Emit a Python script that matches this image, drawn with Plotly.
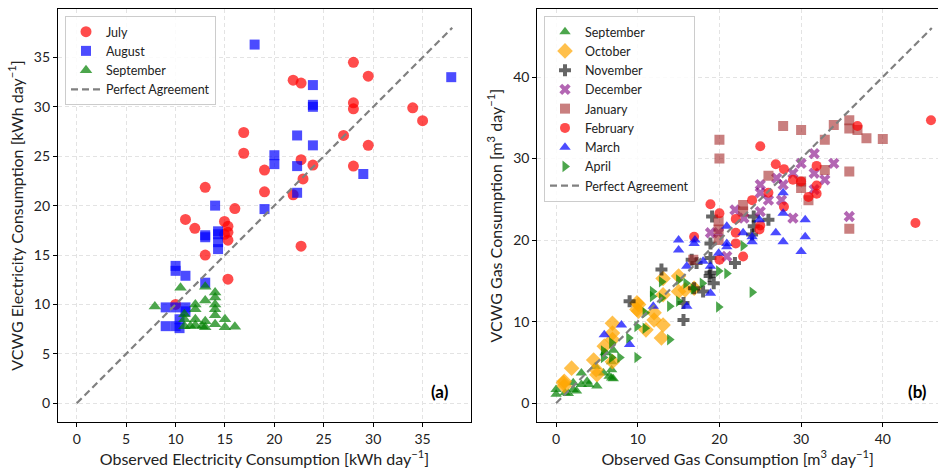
import plotly.graph_objects as go

# ---------------- Panel (a): electricity ----------------
july_obs = [28, 21.9, 22.7, 29.5, 28, 28, 34, 35, 27, 29.5, 28, 16.9, 16.9, 19, 19, 22.7,
            22.9, 23.9, 21.9, 13, 11, 11.95, 14.95, 15.3, 16, 14.95, 15.3, 15.3, 22.7, 13, 15.3, 10]
july_sim = [34.5, 32.7, 32.4, 33.1, 30.4, 29.8, 29.9, 28.6, 27.1, 26.1, 24.0, 27.4, 25.3, 23.6, 21.4, 24.65,
            22.7, 24.1, 21.1, 21.85, 18.6, 17.7, 18.4, 17.9, 19.7, 17.1, 17.3, 16.5, 15.9, 15.0, 12.55, 10.0]

aug_obs = [18, 37.9, 23.9, 23.9, 23.9, 22.3, 23.9, 20, 20, 22.3, 29, 22.3, 19, 14, 13, 13,
           14.3, 14.3, 14.3, 14.3, 10, 10, 11, 13, 9, 10, 11, 11, 9, 10, 10.4, 10.4]
aug_sim = [36.3, 33.0, 32.2, 30.0, 30.2, 27.1, 26.1, 25.1, 24.2, 24.0, 23.2, 21.3, 19.65, 20.0, 17.0, 16.8,
           17.4, 17.1, 16.3, 15.6, 13.9, 13.4, 12.9, 12.2, 9.7, 9.7, 9.7, 9.3, 7.8, 7.8, 8.5, 7.6]

sepe_obs = [7.9, 10.5, 13, 13, 12, 12, 14, 14, 14, 14, 14, 10.9, 10.9, 10.9, 12, 12,
            12.7, 13, 14, 15, 15, 16, 11.5, 13]
sepe_sim = [9.8, 11.7, 11.8, 10.4, 10.0, 9.5, 11.2, 10.7, 10.0, 9.5, 8.9, 9.0, 8.5, 7.8, 8.5, 7.9,
            7.8, 8.3, 8.0, 8.5, 7.7, 7.75, 7.8, 7.7]

elec_line = [0, 38]

# ---------------- Panel (b): gas ----------------
sep_obs = [0, 0, 1.1, 2.1, 2.1, 3.1, 3.1, 3.8, 4.8, 5, 6.8, 6.8, 6.8, 5.8, 1.5, 2.5, 4, 6.5, 7, 7, 6]
sep_sim = [1.7, 1.1, 1.3, 1.7, 2.5, 2.3, 3.7, 2.7, 4.5, 2.1, 4.1, 3.1, 5.1, 3.7, 1.2, 1.5, 2.3, 3.3, 3.0, 6.5, 6.2]

oct_obs = [1, 1, 1.9, 4.6, 5, 4.9, 5.9, 6.9, 6.9, 6.9, 6.9, 10.1, 10.1, 11, 12, 12, 13.1, 12.9,
           13.1, 13.1, 15, 15, 15.8, 16.9, 0.9, 9.9, 9.9]
oct_sim = [2.7, 2.1, 4.3, 5.3, 3.5, 4.1, 7.0, 9.8, 8.6, 7.8, 5.1, 12.1, 11.3, 9.0, 11.1, 10.2, 9.6, 8.0,
           13.3, 15.3, 15.6, 13.7, 13.9, 14.1, 2.5, 12.3, 11.5]

nov_obs = [19.1, 24.2, 26, 24.2, 24, 21.9, 18.9, 18.9, 18.9, 19.3, 16.9, 18, 15.6, 15.6, 12.9, 9, 17.2, 16.6, 18.8]
nov_sim = [22.9, 22.9, 22.5, 21.7, 20.7, 17.2, 19.6, 17.8, 16.0, 14.7, 14.1, 13.7, 12.3, 10.2, 16.4, 12.5, 17.2, 17.6, 15.6]

dec_obs = [31.6, 34, 32.9, 31.6, 30, 29, 27, 25, 25, 26, 27.8, 27.6, 25, 29, 21.9, 23, 18.9, 35.9, 31.6, 20.9, 19.9]
dec_sim = [30.6, 29.4, 27.4, 28.2, 29.4, 28.2, 27.6, 26.8, 25.8, 24.9, 26.8, 24.9, 23.5, 22.7, 23.7, 22.7, 20.9, 22.9, 26.2, 18.0, 20.9]

jan_obs = [20, 20, 27.8, 30, 34, 35.9, 35.9, 36.9, 38, 40, 32.9, 32.9, 35.9, 35.9, 26, 30, 30, 30.9,
           22.9, 22.9, 19.9, 19.9, 16.8, 19.9]
jan_sim = [32.3, 30.0, 34.0, 33.5, 34.1, 34.7, 33.7, 33.5, 32.5, 32.4, 32.3, 28.6, 28.4, 21.4, 27.9, 26.4, 27.2, 24.9,
           24.3, 23.5, 21.3, 22.3, 17.6, 20.0]

feb_obs = [45.9, 44, 36.9, 25, 26.9, 27.9, 29, 30, 31.9, 31.9, 31.9, 30.9, 26, 24, 27.9, 18.9, 20, 22, 25,
           16.9, 22, 22, 22.9, 20, 24.9]
feb_sim = [34.7, 22.1, 34.0, 31.5, 29.3, 28.7, 27.4, 27.2, 29.1, 26.7, 25.7, 25.3, 25.8, 24.9, 24.1, 24.4, 23.3, 22.6, 21.8,
           20.4, 20.9, 19.6, 18.0, 17.6, 21.3]

mar_obs = [27.8, 27.8, 30.5, 26.9, 24.9, 20.9, 22.9, 27.8, 30, 30.5, 24, 24, 20.9, 20.9, 19.9, 18.9, 18.9,
           15, 15, 16.9, 16, 16, 18, 11.9, 8, 9, 5.9, 17]
mar_sim = [25.8, 23.3, 22.5, 20.9, 22.5, 21.7, 20.9, 19.8, 18.6, 20.4, 20.4, 19.8, 19.6, 19.2, 18.4, 16.8, 13.5,
           20.0, 18.8, 19.6, 16.8, 11.9, 17.4, 11.9, 9.6, 7.2, 8.4, 20.0]

apr_obs = [24, 19.9, 20.9, 19.9, 22.9, 17.9, 16.8, 15.9, 15, 15, 13.9, 13.9, 11.8, 11.8, 10.9, 10.9, 9.9, 9.9,
           8.9, 7.8, 5.8, 5.8, 6.8, 6.8, 12.9, 12.9]
apr_sim = [13.6, 11.8, 15.9, 16.2, 19.3, 14.7, 14.0, 14.7, 15.1, 12.5, 11.9, 7.8, 13.7, 13.1, 11.1, 9.2, 9.4, 5.6,
           8.0, 5.6, 6.4, 5.6, 5.6, 7.4, 14.9, 12.9]

gas_line = [0, 46]

FONT = "Lato"
W, H = 938, 469

def px_x(p):
    return p / W

def px_y(p):
    return 1 - p / H

fig = go.Figure()

def add(x, y, name, color, symbol, size, xa, ya, legend, op=0.7):
    fig.add_trace(go.Scatter(
        x=x, y=y, mode="markers", name=name,
        marker=dict(color=color, symbol=symbol, size=size, opacity=op, line=dict(width=0)),
        xaxis=xa, yaxis=ya, legend=legend))

add(july_obs, july_sim, "July", "red", "circle", 11, "x", "y", "legend")
add(aug_obs, aug_sim, "August", "blue", "square", 10, "x", "y", "legend")
add(sepe_obs, sepe_sim, "September", "green", "triangle-up", 11, "x", "y", "legend")
fig.add_trace(go.Scatter(x=elec_line, y=elec_line, mode="lines", name="Perfect Agreement",
                         line=dict(color="gray", width=2.2, dash="7px,4px"),
                         xaxis="x", yaxis="y", legend="legend"))

add(sep_obs, sep_sim, "September", "green", "triangle-up", 10, "x2", "y2", "legend2")
add(oct_obs, oct_sim, "October", "orange", "diamond", 12, "x2", "y2", "legend2")
add(nov_obs, nov_sim, "November", "black", "cross", 10, "x2", "y2", "legend2", 0.6)
add(dec_obs, dec_sim, "December", "purple", "x", 10, "x2", "y2", "legend2", 0.6)
add(jan_obs, jan_sim, "January", "brown", "square", 10, "x2", "y2", "legend2", 0.6)
add(feb_obs, feb_sim, "February", "red", "circle", 10, "x2", "y2", "legend2")
add(mar_obs, mar_sim, "March", "blue", "triangle-up", 10, "x2", "y2", "legend2")
add(apr_obs, apr_sim, "April", "green", "triangle-right", 10, "x2", "y2", "legend2")
fig.add_trace(go.Scatter(x=gas_line, y=gas_line, mode="lines", name="Perfect Agreement",
                         line=dict(color="gray", width=2.2, dash="7px,4px"),
                         xaxis="x2", yaxis="y2", legend="legend2"))

axis_common = dict(
    showgrid=True, gridcolor="#e3e3e3", griddash="4px,3px", gridwidth=0.8,
    zeroline=False, showline=True, linecolor="black", linewidth=1.2,
    ticks="outside", ticklen=4, tickwidth=1, tickcolor="black",
    tickfont=dict(family=FONT, size=14, color="#222"), automargin=False,
)
TFONT = dict(family=FONT, size=16, color="#222")
LFONT = dict(family=FONT, size=12.5, color="#222")

fig.update_layout(
    width=W, height=H, margin=dict(l=0, r=0, t=0, b=0),
    paper_bgcolor="white", plot_bgcolor="white",
    font=dict(family=FONT, color="#222"),
    xaxis=dict(domain=[px_x(58), px_x(471)], range=[-1.9, 39.9], tickvals=[0, 5, 10, 15, 20, 25, 30, 35],
               mirror=True, anchor="y",
               title=dict(text="Observed Electricity Consumption [kWh day<sup>\u22121</sup>]",
                          font=TFONT, standoff=6),
               **axis_common),
    yaxis=dict(domain=[px_y(422), px_y(9)], range=[-1.9, 39.9], tickvals=[0, 5, 10, 15, 20, 25, 30, 35],
               mirror=True, anchor="x",
               title=dict(text="VCWG Electricity Consumption [kWh day<sup>\u22121</sup>]",
                          font=TFONT, standoff=6),
               **axis_common),
    xaxis2=dict(domain=[px_x(537.3), 1.0], range=[-2.3, 46.76], tickvals=[0, 10, 20, 30, 40],
                mirror=True, anchor="y2",
                title=dict(text="Observed Gas Consumption [m<sup>3</sup> day<sup>\u22121</sup>]",
                           font=TFONT, standoff=6),
                **axis_common),
    yaxis2=dict(domain=[px_y(422), px_y(9.3)], range=[-2.3, 48.3], tickvals=[0, 10, 20, 30, 40],
                mirror=False, anchor="x2",
                title=dict(text="VCWG Gas Consumption [m<sup>3</sup> day<sup>\u22121</sup>]",
                           font=TFONT, standoff=6),
                **axis_common),
    legend=dict(x=px_x(65), y=px_y(16), xanchor="left", yanchor="top",
                bgcolor="rgba(255,255,255,0.85)", bordercolor="#cccccc", borderwidth=1,
                font=LFONT, tracegroupgap=0),
    legend2=dict(x=px_x(544), y=px_y(16), xanchor="left", yanchor="top",
                 bgcolor="rgba(255,255,255,0.85)", bordercolor="#cccccc", borderwidth=1,
                 font=LFONT, tracegroupgap=0),
    showlegend=True,
    annotations=[
        dict(text="<b>(a)</b>", xref="x domain", yref="y domain", x=1, y=0, xanchor="right",
             yanchor="bottom", xshift=-20, yshift=18, showarrow=False,
             font=dict(family=FONT, size=17, color="black")),
        dict(text="<b>(b)</b>", xref="x2 domain", yref="y2 domain", x=1, y=0, xanchor="right",
             yanchor="bottom", xshift=-9, yshift=18, showarrow=False,
             font=dict(family=FONT, size=17, color="black")),
    ],
)

fig.write_html("out.html")
